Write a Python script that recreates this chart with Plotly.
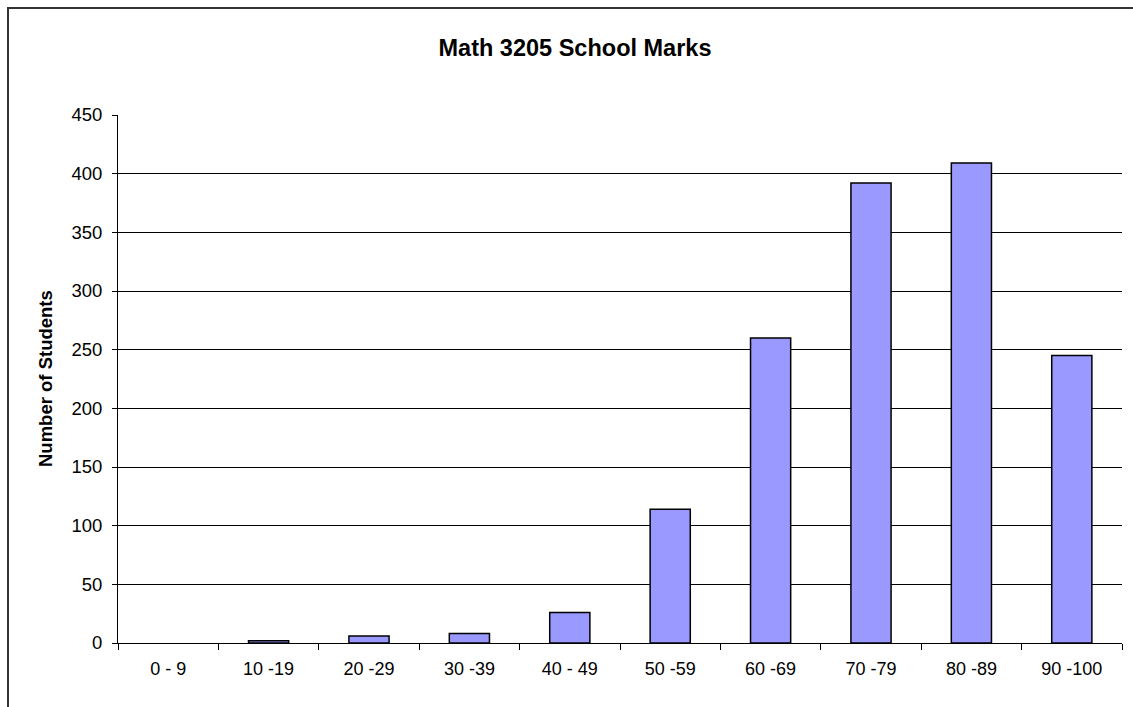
import plotly.graph_objects as go

categories = ["0 - 9", "10 -19", "20 -29", "30 -39", "40 - 49", "50 -59", "60 -69", "70 -79", "80 -89", "90 -100"]
students = [0, 2, 6, 8, 26, 114, 260, 392, 409, 245]
y_ticks = [0, 50, 100, 150, 200, 250, 300, 350, 400, 450]

W, H = 1133, 707
L, R, T, B = 118, 11, 115, 64
pw, ph = W - L - R, H - T - B

FONT = "Liberation Sans, Arial, sans-serif"

# no outline for empty bins (nothing drawn there in the reference)
outline_w = [0 if v == 0 else 1.5 for v in students]

fig = go.Figure(go.Bar(
    x=categories, y=students,
    marker=dict(color="#9999FF", line=dict(color="#000000", width=outline_w)),
    width=0.4,
))

fig.update_layout(
    width=W, height=H,
    margin=dict(l=L, r=R, t=T, b=B),
    paper_bgcolor="white", plot_bgcolor="white",
    showlegend=False,
    font=dict(family=FONT, size=18, color="black"),
    title=dict(text="<b>Math 3205 School Marks</b>", x=575 / W, xanchor="center",
               y=1 - 48 / H, yanchor="middle", yref="container",
               font=dict(family=FONT, size=23.5, color="black")),
    xaxis=dict(type="category", tickson="boundaries", ticks="outside", ticklen=6,
               tickcolor="black", showline=True, linecolor="black", linewidth=1,
               showgrid=False, tickfont=dict(size=18), range=[-0.5, 9.5],
               ticklabelstandoff=9),
    yaxis=dict(range=[0, 450], tickvals=y_ticks, ticks="outside", ticklen=5,
               tickcolor="black", showline=True, linecolor="black", linewidth=1,
               showgrid=True, gridcolor="black", gridwidth=1, zeroline=False,
               tickfont=dict(size=18.5), ticklabelstandoff=6),
    annotations=[dict(text="<b>Number of Students</b>", textangle=-90,
                      x=(45 - L) / pw, y=0.5, xref="paper", yref="paper",
                      xanchor="center", yanchor="middle", showarrow=False,
                      font=dict(family=FONT, size=18.5, color="black"))],
    shapes=[dict(type="rect", xref="paper", yref="paper",
                 x0=(8 - L) / pw, x1=(1180 - L) / pw,
                 y0=(643 - 760) / ph, y1=(643 - 8) / ph,
                 line=dict(color="#333333", width=2), layer="below")],
)

fig.write_html("out.html")
